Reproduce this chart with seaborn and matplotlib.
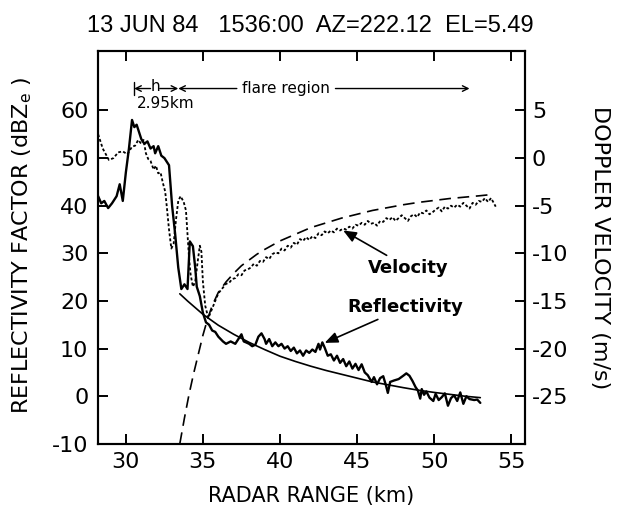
import matplotlib
matplotlib.use("Agg")
import matplotlib.pyplot as plt
import pandas as pd
import seaborn as sns

# ---------------------------------------------------------------------------
# Data (range in km, reflectivity in dBZe, velocity m/s)
# ---------------------------------------------------------------------------

refl_range = [
    28.2, 28.4, 28.6, 28.85, 29.1, 29.4, 29.6, 29.8, 30.0, 30.2, 30.4, 30.55,
    30.7, 30.85, 31.0, 31.2, 31.4, 31.6, 31.8, 31.9, 32.1, 32.3, 32.5, 32.8,
    33.0, 33.2, 33.4, 33.6, 33.8, 34.0, 34.15, 34.35, 34.5, 34.6, 34.8, 35.0,
    35.2, 35.4, 35.6, 35.8, 36.0, 36.3, 36.5, 36.8, 37.1, 37.3, 37.5, 37.65,
    37.8, 38.0, 38.2, 38.4, 38.6, 38.8, 39.0, 39.1, 39.3, 39.5, 39.7, 39.9,
    40.1, 40.3, 40.5, 40.7, 40.9, 41.1, 41.3, 41.5, 41.7, 41.9, 42.1, 42.3,
    42.5, 42.6, 42.75, 42.9, 43.1, 43.3, 43.5, 43.7, 43.9, 44.1, 44.3, 44.5,
    44.7, 44.9, 45.1, 45.3, 45.5, 45.7, 45.95, 46.1, 46.3, 46.5, 46.7, 46.9,
    47.0, 47.15, 47.4, 47.7, 48.0, 48.2, 48.4, 48.6, 48.8, 48.95, 49.1, 49.2,
    49.35, 49.5, 49.7, 49.95, 50.1, 50.3, 50.5, 50.7, 50.9, 51.1, 51.3, 51.5,
    51.7, 51.9, 52.1, 52.3, 52.6, 52.8, 53.0,
]
refl_dbz = [
    42, 40.5, 41, 39.5, 40.5, 42, 44.5, 41, 47, 52, 58, 56.5,
    57, 55.5, 54, 53, 53.5, 52, 52.5, 51, 52.5, 50.5, 50, 48.5,
    40, 34, 27, 22.5, 23.5, 22.5, 32.5, 31.5, 27, 23, 21, 17.5,
    15.5, 15, 13.8, 13.5, 12.5, 11.5, 11, 11.5, 11, 12, 13, 11.5,
    11.3, 11, 10.5, 10.8, 12.5, 13.2, 12, 11, 12, 10.5, 11.3, 10.5,
    11, 10, 10.5, 9.5, 10.2, 9, 9.6, 8.5, 9.6, 9.1, 9.8, 9.3,
    11, 9.8, 11.3, 10.2, 8.5, 8.8, 7.5, 8.5, 7.0, 7.8, 6.3, 7.3,
    5.8, 6.8, 5.5, 6.7, 5.0, 4.4, 3.0, 4.0, 2.5, 3.8, 4.2, 2.0,
    0.7, 3.0, 3.3, 3.6, 4.3, 4.8, 4.3, 3.2, 1.9, 1.2, -0.5, 1.5,
    0.3, 1.0, -0.3, -1.0, 0.5, -0.8, -0.2, 0.6, -2.0, -0.4, 0.2, -1.0,
    0.8, -1.6, 0.0, -0.6, -0.8, -0.7, -1.4,
]

fit_range = [33.5, 34, 35, 36, 37, 38, 39, 40, 41, 42, 43, 44, 45, 46, 47,
             48, 49, 50, 51, 52, 53]
fit_dbz = [21.5, 20.0, 17.2, 14.9, 13.0, 11.3, 9.8, 8.4, 7.3, 6.3, 5.4, 4.6,
           3.8, 3.0, 2.4, 1.8, 1.25, 0.8, 0.4, 0.0, -0.3]

vel_range = [
    28.2, 28.5, 28.9, 29.2, 29.5, 29.8, 30.1, 30.4, 30.6, 30.8, 31.0, 31.15,
    31.3, 31.45, 31.6, 31.8, 31.95, 32.1, 32.25, 32.4, 32.55, 32.65, 32.8,
    32.95, 33.1, 33.25, 33.4, 33.55, 33.75, 33.9, 34.0, 34.1, 34.2, 34.35,
    34.5, 34.65, 34.8, 34.9, 35.0, 35.15, 35.35, 35.55, 35.7, 35.85, 36.0,
    36.2, 36.35, 36.5, 36.7, 36.9, 37.1, 37.3, 37.5, 37.7, 37.9, 38.1, 38.3,
    38.5, 38.7, 38.9, 39.1, 39.3, 39.5, 39.7, 39.9, 40.1, 40.3, 40.5, 40.7,
    40.9, 41.1, 41.3, 41.5, 41.7, 41.9, 42.1, 42.3, 42.5, 42.7, 42.9, 43.1,
    43.3, 43.5, 43.7, 43.9, 44.1, 44.3, 44.5, 44.7, 44.9, 45.1, 45.3, 45.5,
    45.7, 45.9, 46.1, 46.3, 46.5, 46.7, 46.9, 47.1, 47.3, 47.5, 47.7, 47.9,
    48.1, 48.3, 48.5, 48.7, 48.9, 49.1, 49.3, 49.5, 49.7, 49.9, 50.1, 50.3,
    50.5, 50.7, 50.9, 51.1, 51.3, 51.5, 51.7, 51.9, 52.1, 52.3, 52.5, 52.7,
    52.9, 53.1, 53.3, 53.5, 53.7, 53.9, 54.0,
]
vel_ms = [
    2.5, 1.0, -0.2, 0.0, 0.6, 0.7, 0.4, 1.2, 1.3, 1.9, 1.5, 1.9,
    0.5, -0.1, -0.3, -1.2, -0.8, -1.6, -1.5, -2.6, -3.5, -5.0, -7.5,
    -9.5, -9.0, -6.5, -4.5, -4.0, -4.6, -5.5, -8.0, -10.5, -12.2, -13.5,
    -13.0, -11.0, -9.2, -9.8, -13.0, -15.5, -16.8, -16.0, -15.4, -14.8, -14.2,
    -13.8, -13.5, -13.2, -13.1, -12.7, -12.6, -12.2, -12.3, -11.8, -11.7, -11.5, -11.1,
    -11.3, -10.8, -10.9, -10.4, -10.6, -10.1, -9.9, -10.0, -9.5, -9.7, -9.2, -9.4,
    -8.9, -9.1, -8.5, -8.7, -8.3, -8.6, -8.2, -8.4, -7.9, -8.1, -7.7, -7.9,
    -7.6, -7.8, -7.4, -7.6, -7.4, -7.5, -7.2, -7.4, -7.0, -7.1, -6.8, -7.0,
    -6.6, -6.9, -6.8, -7.1, -6.6, -6.7, -6.3, -6.5, -6.2, -6.6, -6.3, -6.0,
    -6.3, -6.6, -6.1, -5.9, -6.2, -5.7, -5.8, -5.5, -5.9, -5.7, -5.4, -5.2,
    -5.6, -5.1, -5.3, -5.0, -5.2, -4.9, -5.1, -4.7, -5.0, -5.3, -4.7, -4.9,
    -4.5, -4.6, -4.2, -4.6, -4.2, -4.8, -5.1,
]

model_range = [33.5, 33.8, 34.1, 34.4, 34.7, 35.0, 35.3, 35.6, 36.0, 36.5,
               37.0, 37.5, 38.0, 38.5, 39.0, 40.0, 41.0, 42.0, 43.0, 44.0,
               45.0, 46.0, 47.0, 48.0, 49.0, 50.0, 51.0, 52.0, 53.0, 53.6]
model_ms = [-30, -27.3, -24.8, -22.6, -20.6, -18.6, -16.9, -15.5, -14.1, -13.0,
            -12.1, -11.3, -10.7, -10.1, -9.6, -8.7, -8.0, -7.3, -6.8, -6.3,
            -5.9, -5.5, -5.2, -4.9, -4.65, -4.45, -4.25, -4.1, -3.95, -3.85]

x_ticks = [30, 35, 40, 45, 50, 55]
refl_ticks = [-10, 0, 10, 20, 30, 40, 50, 60]
vel_ticks = [-25, -20, -15, -10, -5, 0, 5]

refl_df = pd.DataFrame({"range": refl_range, "dbz": refl_dbz})
fit_df = pd.DataFrame({"range": fit_range, "dbz": fit_dbz})
vel_df = pd.DataFrame({"range": vel_range, "ms": vel_ms})
model_df = pd.DataFrame({"range": model_range, "ms": model_ms})

# ---------------------------------------------------------------------------
# Plot
# ---------------------------------------------------------------------------

sns.set_style("ticks")
plt.rcParams["font.family"] = ["DejaVu Sans"]
plt.rcParams["axes.linewidth"] = 1.5
plt.rcParams["axes.unicode_minus"] = False
for key in ("text.color", "axes.labelcolor", "xtick.color", "ytick.color",
            "axes.edgecolor"):
    plt.rcParams[key] = "black"

fig = plt.figure(figsize=(6.25, 5.09), dpi=100)
ax = fig.add_axes([0.157, 0.128, 0.683, 0.772])
ax2 = ax.twinx()

sns.lineplot(data=refl_df, x="range", y="dbz", ax=ax, color="black",
             lw=1.7, sort=False)
sns.lineplot(data=fit_df, x="range", y="dbz", ax=ax, color="black", lw=1.2)
sns.lineplot(data=vel_df, x="range", y="ms", ax=ax2, color="black",
             lw=1.3, sort=False, linestyle=(0, (1.6, 1.2)))
sns.lineplot(data=model_df, x="range", y="ms", ax=ax2, color="black",
             lw=1.2, linestyle=(0, (7, 4)))

ax.set_xlim(28.2, 55.9)
ax.set_ylim(-10, 72.5)
ax2.set_ylim(-30, 11.25)
ax.set_xticks(x_ticks)
ax.set_yticks(refl_ticks)
ax2.set_yticks(vel_ticks)

tick_kw = dict(direction="in", length=7, width=1.4, labelsize=16)
ax.tick_params(axis="x", top=True, pad=6, **tick_kw)
ax.tick_params(axis="y", right=False, pad=7, **tick_kw)
ax2.tick_params(axis="y", pad=5, **tick_kw)

ax.set_xlabel("RADAR RANGE (km)", fontsize=15, labelpad=10)
ax.set_ylabel(r"REFLECTIVITY FACTOR (dBZ$_\mathregular{e}$ )", fontsize=16)
ax.yaxis.set_label_coords(-0.15, 0.505)
ax2.set_ylabel("DOPPLER VELOCITY (m/s)", fontsize=16, rotation=270)
ax2.yaxis.set_label_coords(1.20, 0.50)

fig.text(0.497, 0.948, "13 JUN 84   1536:00  AZ=222.12  EL=5.49",
         ha="center", va="center", fontsize=17, family="Liberation Sans")

# h / flare region markers
y_row = 64.6
arrow = dict(arrowstyle="->", lw=1.0, color="black", shrinkA=0, shrinkB=0)
ax.plot([30.54, 30.54], [y_row - 1.3, y_row + 1.3], color="black", lw=1.0)
ax.annotate("", xy=(30.54, y_row), xytext=(31.6, y_row), arrowprops=arrow)
ax.text(31.9, y_row + 0.4, "h", ha="center", va="center", fontsize=11)
ax.annotate("", xy=(33.4, y_row), xytext=(32.2, y_row), arrowprops=arrow)
ax.annotate("", xy=(33.4, y_row), xytext=(37.2, y_row), arrowprops=arrow)
ax.text(40.4, y_row, "flare region", ha="center", va="center", fontsize=11)
ax.annotate("", xy=(52.3, y_row), xytext=(43.6, y_row), arrowprops=arrow)
ax.text(32.6, 61.4, "2.95km", ha="center", va="center", fontsize=11)

big_arrow = dict(arrowstyle="-|>,head_length=0.6,head_width=0.25", lw=1.2,
                 color="black", shrinkA=0, shrinkB=0)
ax.annotate("Velocity", xy=(44.1, 34.8), xytext=(45.7, 27.0),
            fontsize=13, fontweight="bold", va="center", ha="left",
            arrowprops=big_arrow)
ax.annotate("Reflectivity", xy=(42.9, 11.2), xytext=(44.4, 18.7),
            fontsize=13, fontweight="bold", va="center", ha="left",
            arrowprops=big_arrow)

fig.savefig("out.png", dpi=100)
